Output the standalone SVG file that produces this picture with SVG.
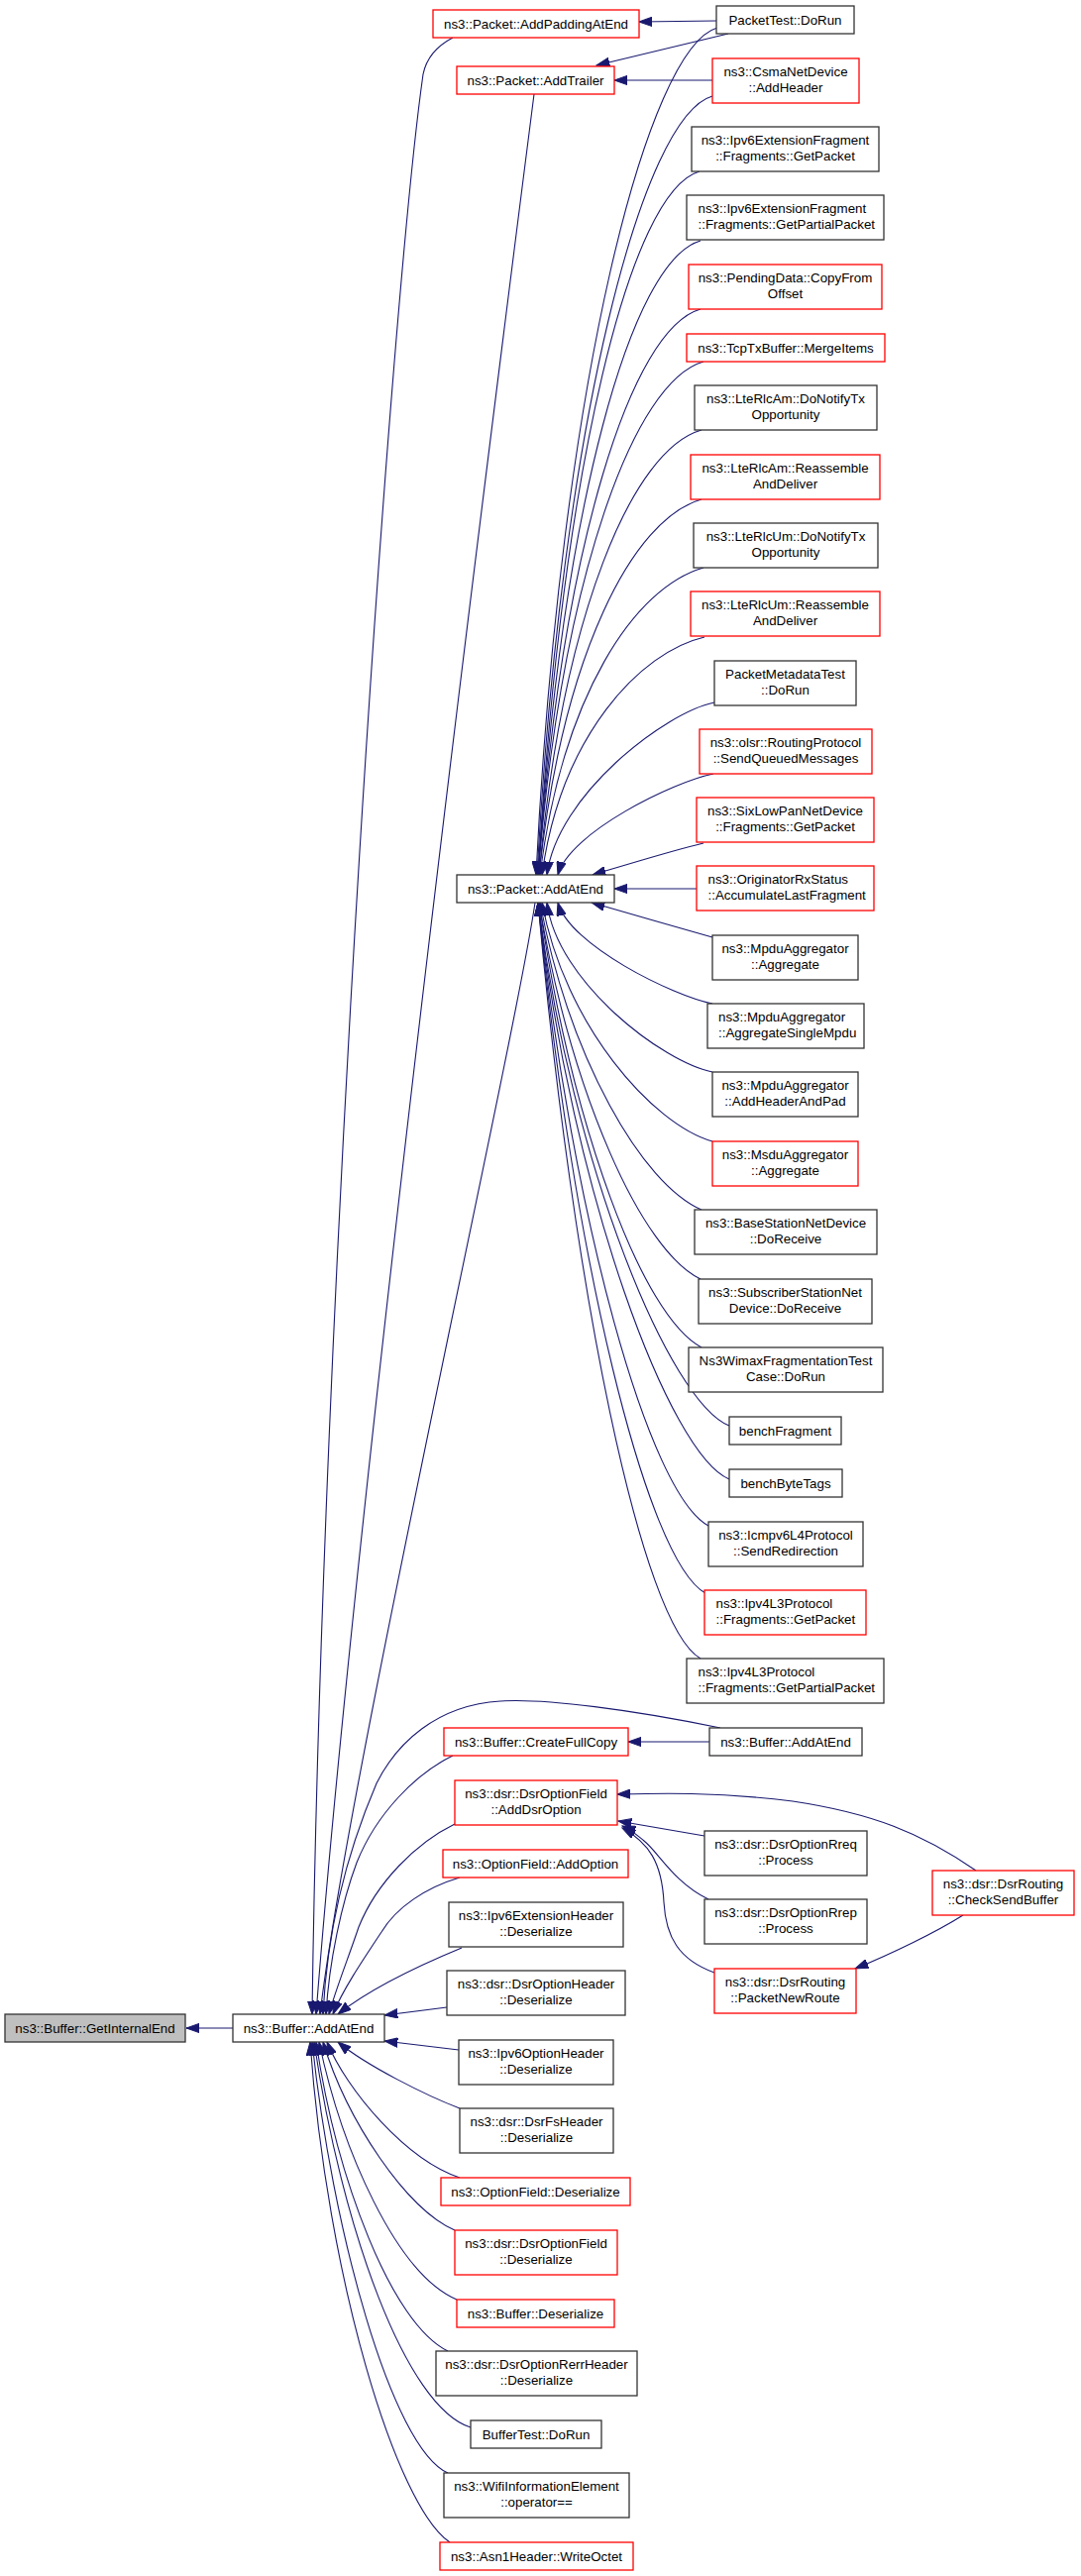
<svg xmlns="http://www.w3.org/2000/svg" width="1091" height="2600" viewBox="0 0 1091 2600">
<defs>
<marker id="ah" markerUnits="userSpaceOnUse" viewBox="0 0 14 10" markerWidth="14" markerHeight="10" refX="13.3" refY="5" orient="auto">
<path d="M0,0.3 L13.3,5 L0,9.7 Z" fill="#191970" stroke="#191970" stroke-width="1"/>
</marker>
<style>
.n rect{fill:#ffffff;stroke:#333333;stroke-width:1.3}
.r rect{stroke:#ff0000}
.g rect{fill:#bfbfbf}
text{font-family:"Liberation Sans",Arial,Helvetica,sans-serif;font-size:13.33px;fill:#000000;text-anchor:middle}
.l text{text-anchor:start}
#edges path{fill:none;stroke:#191970;stroke-width:1.1;marker-end:url(#ah)}
</style>
</defs>
<rect x="0" y="0" width="1091" height="2600" fill="#ffffff"/>
<g id="edges">
<path d="M235,2047 L188,2047"/>
<path d="M724,28 C654,48 566,383 541,883"/>
<path d="M719,97 C649,117 567,423 542,883"/>
<path d="M706,173 C636,193 568,468 543,883"/>
<path d="M707,243 C637,263 568,509 543,883"/>
<path d="M707,312 C637,332 568,549 543,883"/>
<path d="M710,365 C640,385 568,580 543,883"/>
<path d="M708,434 C638,454 568,620 544,883"/>
<path d="M708,504 C638,524 568,661 544,883"/>
<path d="M710,573 C640,593 568,702 545,883"/>
<path d="M711,643 C646,658 566,743 547,883"/>
<path d="M721,709 C671,719 562,803 552,883"/>
<path d="M720,781 C680,789 575,840 563,883"/>
<path d="M710,851 C680,858 625,875 598,883"/>
<path d="M703,897 L620,897"/>
<path d="M719,946 C690,938 625,919 597,911"/>
<path d="M719,1013 C679,1005 575,954 563,911"/>
<path d="M719,1082 C669,1072 562,991 552,911"/>
<path d="M719,1152 C659,1135 570,1035 547,911"/>
<path d="M708,1221 C648,1195 575,1069 545,911"/>
<path d="M707,1291 C647,1262 577,1105 544,911"/>
<path d="M708,1360 C648,1328 578,1140 544,911"/>
<path d="M736,1439 C676,1415 578,1180 543,911"/>
<path d="M736,1493 C676,1468 578,1208 543,911"/>
<path d="M715,1540 C655,1508 578,1232 543,911"/>
<path d="M712,1608 C652,1575 578,1266 543,911"/>
<path d="M707,1674 C647,1640 578,1300 543,911"/>
<path d="M723,21 L645,22"/>
<path d="M735,34 L602,66"/>
<path d="M719,81 L620,81"/>
<path d="M457,38 C438,48 430,60 427,75 C395,300 325,1300 315,2033"/>
<path d="M539,95 C500,400 360,1500 319,2033"/>
<path d="M540,911 C520,1050 350,1800 323,2033"/>
<path d="M727,1744 C640,1726 550,1714 505,1717 C440,1721 400,1760 380,1800 C350,1870 330,1950 326,2033"/>
<path d="M716,1758 L634,1758"/>
<path d="M457,1772 C420,1790 380,1830 360,1880 C345,1920 332,1980 329,2033"/>
<path d="M459,1841 C420,1860 380,1900 362,1945 C352,1975 338,2010 332,2033"/>
<path d="M464,1895 C430,1905 400,1925 385,1950 C365,1980 345,2010 336,2033"/>
<path d="M466,1966 C420,1985 370,2010 341,2033"/>
<path d="M451,2026 L388,2034"/>
<path d="M463,2069 L388,2060"/>
<path d="M464,2128 C430,2115 370,2085 341,2061"/>
<path d="M464,2198 C410,2180 350,2110 330,2061"/>
<path d="M459,2251 C410,2230 350,2140 326,2061"/>
<path d="M461,2321 C400,2295 345,2170 322,2061"/>
<path d="M452,2373 C395,2345 340,2200 319,2061"/>
<path d="M475,2450 C410,2430 345,2250 317,2061"/>
<path d="M452,2496 C395,2470 335,2250 315,2061"/>
<path d="M454,2566 C400,2530 330,2300 313,2061"/>
<path d="M985,1888 C930,1850 880,1830 800,1818 C720,1808 660,1810 623,1811"/>
<path d="M711,1853 L624,1838"/>
<path d="M715,1917 C680,1900 665,1870 650,1858 C640,1850 636,1846 628,1843"/>
<path d="M721,1991 C685,1978 672,1955 670,1920 C668,1880 655,1860 628,1845"/>
<path d="M972,1933 C945,1950 900,1972 863,1987"/>
</g>

<g id="node-GetInternalEnd" class="n g"><rect x="5" y="2033" width="182" height="28"/><text x="96" y="2051.5">ns3::Buffer::GetInternalEnd</text></g>
<g id="node-BufferAddAtEnd" class="n"><rect x="235" y="2033" width="153" height="28"/><text x="311.5" y="2051.5">ns3::Buffer::AddAtEnd</text></g>

<g id="node-AddPaddingAtEnd" class="n r"><rect x="437" y="10" width="208" height="28"/><text x="541" y="28.5">ns3::Packet::AddPaddingAtEnd</text></g>
<g id="node-AddTrailer" class="n r"><rect x="461" y="67" width="159" height="28"/><text x="540.5" y="85.5">ns3::Packet::AddTrailer</text></g>
<g id="node-PacketAddAtEnd" class="n"><rect x="461" y="883" width="159" height="28"/><text x="540.5" y="901.5">ns3::Packet::AddAtEnd</text></g>
<g id="node-CreateFullCopy" class="n r"><rect x="448" y="1744" width="186" height="28"/><text x="541" y="1762.5">ns3::Buffer::CreateFullCopy</text></g>
<g id="node-AddDsrOption" class="n r"><rect x="459" y="1797" width="164" height="45"/><text x="541" y="1814.8">ns3::dsr::DsrOptionField</text><text x="541" y="1831.3">::AddDsrOption</text></g>
<g id="node-AddOption" class="n r"><rect x="447" y="1867" width="187" height="28"/><text x="540.5" y="1885.5">ns3::OptionField::AddOption</text></g>
<g id="node-Ipv6ExtHdrDeser" class="n"><rect x="453" y="1920" width="176" height="45"/><text x="541" y="1937.8">ns3::Ipv6ExtensionHeader</text><text x="541" y="1954.3">::Deserialize</text></g>
<g id="node-DsrOptHdrDeser" class="n"><rect x="451" y="1989" width="180" height="45"/><text x="541" y="2006.8">ns3::dsr::DsrOptionHeader</text><text x="541" y="2023.3">::Deserialize</text></g>
<g id="node-Ipv6OptHdrDeser" class="n"><rect x="463" y="2059" width="156" height="45"/><text x="541" y="2076.8">ns3::Ipv6OptionHeader</text><text x="541" y="2093.3">::Deserialize</text></g>
<g id="node-DsrFsHdrDeser" class="n"><rect x="464" y="2128" width="155" height="45"/><text x="541.5" y="2145.8">ns3::dsr::DsrFsHeader</text><text x="541.5" y="2162.3">::Deserialize</text></g>
<g id="node-OptFieldDeser" class="n r"><rect x="445" y="2198" width="191" height="28"/><text x="540.5" y="2216.5">ns3::OptionField::Deserialize</text></g>
<g id="node-DsrOptFieldDeser" class="n r"><rect x="459" y="2251" width="164" height="45"/><text x="541" y="2268.8">ns3::dsr::DsrOptionField</text><text x="541" y="2285.3">::Deserialize</text></g>
<g id="node-BufferDeser" class="n r"><rect x="461" y="2321" width="159" height="28"/><text x="540.5" y="2339.5">ns3::Buffer::Deserialize</text></g>
<g id="node-DsrRerrDeser" class="n"><rect x="440" y="2373" width="203" height="45"/><text x="541.5" y="2390.8">ns3::dsr::DsrOptionRerrHeader</text><text x="541.5" y="2407.3">::Deserialize</text></g>
<g id="node-BufferTest" class="n"><rect x="475" y="2443" width="132" height="28"/><text x="541" y="2461.5">BufferTest::DoRun</text></g>
<g id="node-WifiInfoElem" class="n"><rect x="448" y="2496" width="187" height="45"/><text x="541.5" y="2513.8">ns3::WifiInformationElement</text><text x="541.5" y="2530.3">::operator==</text></g>
<g id="node-Asn1WriteOctet" class="n r"><rect x="444" y="2566" width="195" height="28"/><text x="541.5" y="2584.5">ns3::Asn1Header::WriteOctet</text></g>

<g id="node-PacketTest" class="n"><rect x="723" y="6" width="139" height="28"/><text x="792.5" y="24.5">PacketTest::DoRun</text></g>
<g id="node-CsmaAddHeader" class="n r"><rect x="719" y="59" width="148" height="45"/><text x="793" y="76.8">ns3::CsmaNetDevice</text><text x="793" y="93.3">::AddHeader</text></g>
<g id="node-Ipv6FragGetPacket" class="n"><rect x="698" y="128" width="189" height="45"/><text x="792.5" y="145.8">ns3::Ipv6ExtensionFragment</text><text x="792.5" y="162.3">::Fragments::GetPacket</text></g>
<g id="node-Ipv6FragGetPartial" class="n l"><rect x="693" y="197" width="199" height="45"/><text x="704.5" y="214.8">ns3::Ipv6ExtensionFragment</text><text x="704.5" y="231.3">::Fragments::GetPartialPacket</text></g>
<g id="node-PendingData" class="n r"><rect x="695" y="267" width="195" height="45"/><text x="792.5" y="284.8">ns3::PendingData::CopyFrom</text><text x="792.5" y="301.3">Offset</text></g>
<g id="node-TcpTxMerge" class="n r"><rect x="693" y="337" width="200" height="28"/><text x="793" y="355.5">ns3::TcpTxBuffer::MergeItems</text></g>
<g id="node-LteAmNotify" class="n"><rect x="701" y="389" width="184" height="45"/><text x="793" y="406.8">ns3::LteRlcAm::DoNotifyTx</text><text x="793" y="423.3">Opportunity</text></g>
<g id="node-LteAmReassemble" class="n r"><rect x="697" y="459" width="191" height="45"/><text x="792.5" y="476.8">ns3::LteRlcAm::Reassemble</text><text x="792.5" y="493.3">AndDeliver</text></g>
<g id="node-LteUmNotify" class="n"><rect x="700" y="528" width="186" height="45"/><text x="793" y="545.8">ns3::LteRlcUm::DoNotifyTx</text><text x="793" y="562.3">Opportunity</text></g>
<g id="node-LteUmReassemble" class="n r"><rect x="697" y="597" width="191" height="45"/><text x="792.5" y="614.8">ns3::LteRlcUm::Reassemble</text><text x="792.5" y="631.3">AndDeliver</text></g>
<g id="node-PacketMetadataTest" class="n"><rect x="721" y="667" width="143" height="45"/><text x="792.5" y="684.8">PacketMetadataTest</text><text x="792.5" y="701.3">::DoRun</text></g>
<g id="node-OlsrSendQueued" class="n r"><rect x="706" y="736" width="174" height="45"/><text x="793" y="753.8">ns3::olsr::RoutingProtocol</text><text x="793" y="770.3">::SendQueuedMessages</text></g>
<g id="node-SixLowPanGetPacket" class="n r"><rect x="703" y="805" width="179" height="45"/><text x="792.5" y="822.8">ns3::SixLowPanNetDevice</text><text x="792.5" y="839.3">::Fragments::GetPacket</text></g>
<g id="node-OriginatorRx" class="n r l"><rect x="703" y="874" width="179" height="45"/><text x="714.5" y="891.8">ns3::OriginatorRxStatus</text><text x="714.5" y="908.3">::AccumulateLastFragment</text></g>
<g id="node-MpduAggregate" class="n"><rect x="719" y="944" width="147" height="45"/><text x="792.5" y="961.8">ns3::MpduAggregator</text><text x="792.5" y="978.3">::Aggregate</text></g>
<g id="node-MpduSingle" class="n l"><rect x="714" y="1013" width="158" height="45"/><text x="725" y="1030.8">ns3::MpduAggregator</text><text x="725" y="1047.3">::AggregateSingleMpdu</text></g>
<g id="node-MpduAddHeader" class="n"><rect x="719" y="1082" width="147" height="45"/><text x="792.5" y="1099.8">ns3::MpduAggregator</text><text x="792.5" y="1116.3">::AddHeaderAndPad</text></g>
<g id="node-MsduAggregate" class="n r"><rect x="719" y="1152" width="147" height="45"/><text x="792.5" y="1169.8">ns3::MsduAggregator</text><text x="792.5" y="1186.3">::Aggregate</text></g>
<g id="node-BaseStation" class="n"><rect x="701" y="1221" width="184" height="45"/><text x="793" y="1238.8">ns3::BaseStationNetDevice</text><text x="793" y="1255.3">::DoReceive</text></g>
<g id="node-SubscriberStation" class="n"><rect x="705" y="1291" width="175" height="45"/><text x="792.5" y="1308.8">ns3::SubscriberStationNet</text><text x="792.5" y="1325.3">Device::DoReceive</text></g>
<g id="node-WimaxFragTest" class="n"><rect x="695" y="1360" width="196" height="45"/><text x="793" y="1377.8">Ns3WimaxFragmentationTest</text><text x="793" y="1394.3">Case::DoRun</text></g>
<g id="node-benchFragment" class="n"><rect x="736" y="1430" width="113" height="28"/><text x="792.5" y="1448.5">benchFragment</text></g>
<g id="node-benchByteTags" class="n"><rect x="736" y="1483" width="114" height="28"/><text x="793" y="1501.5">benchByteTags</text></g>
<g id="node-Icmpv6Redirect" class="n"><rect x="715" y="1536" width="156" height="45"/><text x="793" y="1553.8">ns3::Icmpv6L4Protocol</text><text x="793" y="1570.3">::SendRedirection</text></g>
<g id="node-Ipv4FragGetPacket" class="n r l"><rect x="711" y="1605" width="163" height="45"/><text x="722.5" y="1622.8">ns3::Ipv4L3Protocol</text><text x="722.5" y="1639.3">::Fragments::GetPacket</text></g>
<g id="node-Ipv4FragGetPartial" class="n l"><rect x="693" y="1674" width="199" height="45"/><text x="704.5" y="1691.8">ns3::Ipv4L3Protocol</text><text x="704.5" y="1708.3">::Fragments::GetPartialPacket</text></g>
<g id="node-BufferAddAtEnd2" class="n"><rect x="716" y="1744" width="154" height="28"/><text x="793" y="1762.5">ns3::Buffer::AddAtEnd</text></g>
<g id="node-DsrRreq" class="n"><rect x="711" y="1848" width="164" height="45"/><text x="793" y="1865.8">ns3::dsr::DsrOptionRreq</text><text x="793" y="1882.3">::Process</text></g>
<g id="node-DsrRrep" class="n"><rect x="711" y="1917" width="164" height="45"/><text x="793" y="1934.8">ns3::dsr::DsrOptionRrep</text><text x="793" y="1951.3">::Process</text></g>
<g id="node-PacketNewRoute" class="n r"><rect x="721" y="1987" width="143" height="45"/><text x="792.5" y="2004.8">ns3::dsr::DsrRouting</text><text x="792.5" y="2021.3">::PacketNewRoute</text></g>
<g id="node-CheckSendBuffer" class="n r"><rect x="941" y="1888" width="143" height="45"/><text x="1012.5" y="1905.8">ns3::dsr::DsrRouting</text><text x="1012.5" y="1922.3">::CheckSendBuffer</text></g>
</svg>
